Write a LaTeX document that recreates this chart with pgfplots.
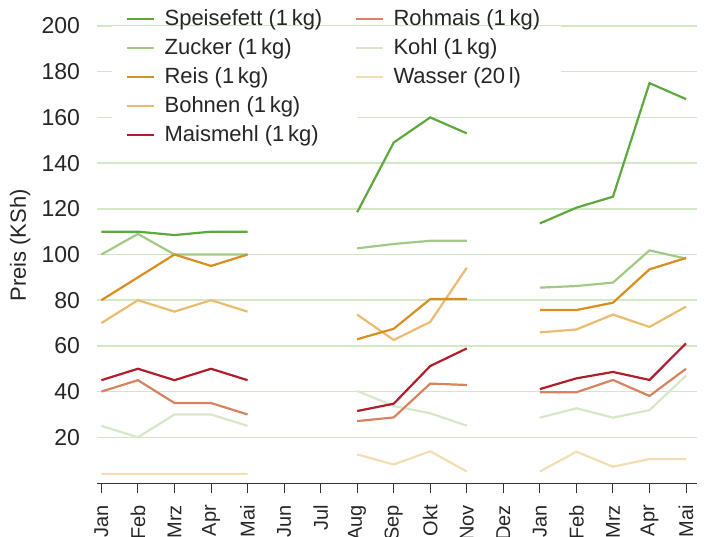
\documentclass[border=0pt]{standalone}
\usepackage{fontspec}
\setmainfont{Liberation Sans}
\usepackage{pgfplots}
\pgfplotsset{compat=1.18}
\usepackage{pgfplotstable}
\definecolor{cSpeise}{HTML}{5DA83F}
\definecolor{cZucker}{HTML}{A0CA86}
\definecolor{cReis}{HTML}{D88F1F}
\definecolor{cBohnen}{HTML}{EBBB6E}
\definecolor{cMais}{HTML}{B01E2C}
\definecolor{cRohmais}{HTML}{D68360}
\definecolor{cKohl}{HTML}{D6E8C8}
\definecolor{cWasser}{HTML}{F5DDB3}
\definecolor{gridc}{HTML}{D3E6C6}
\pgfplotstableread{
x Speisefett Zucker Reis Bohnen Maismehl Rohmais Kohl Wasser
0 110 100 80 70 45 40 25 4
1 110 109 90 80 50 45 20 4
2 108.5 100 100 75 45 35 30 4
3 110 100 95 80 50 35 30 4
4 110 100 100 75 45 30 25 4
5 nan nan nan nan nan nan nan nan
6 nan nan nan nan nan nan nan nan
7 118.5 102.7 62.9 73.7 31.5 27.1 40.3 12.5
8 149 104.6 67.5 62.6 34.7 28.7 33.7 8.1
9 160 106 80.5 70.5 51.2 43.5 30.5 13.9
10 153 106 80.5 94.2 58.9 42.9 25.1 5
11 nan nan nan nan nan nan nan nan
12 113.6 85.5 75.7 65.9 41.1 39.7 28.6 5
13 120.5 86.2 75.7 67.2 45.8 39.7 32.7 13.7
14 125.3 87.7 78.9 73.7 48.6 45.1 28.6 7.1
15 175 101.8 93.5 68.3 45.1 38.1 31.9 10.5
16 168 98.2 98.5 77.2 61.1 50 47 10.5
}\data
\begin{document}
\begin{tikzpicture}[font=\fontsize{11}{13}\selectfont]
\useasboundingbox (-48.5pt,-26.5pt) rectangle (305pt,241.5pt);
\clip (-48.5pt,-26.5pt) rectangle (305pt,241.5pt);
\begin{axis}[
  at={(0,0)}, anchor=south west,
  scale only axis, width=300pt, height=228.5pt,
  xmin=-0.12, xmax=16.3, ymin=0, ymax=200,
  axis x line=bottom, axis y line=left,
  x axis line style={-, draw=black!80, line width=0.5pt},
  y axis line style={draw=none},
  xtick={0,...,16},
  xticklabels={Jan,Feb,Mrz,Apr,Mai,Jun,Jul,Aug,Sep,Okt,Nov,Dez,Jan,Feb,Mrz,Apr,Mai},
  xtick style={draw=black!80, line width=0.5pt},
  tick align=outside, major tick length=5pt,
  ytick={20,40,...,200},
  ytick style={draw=none},
  ymajorgrids, grid style={color=gridc, line width=0.75pt},
  xticklabel style={rotate=90, anchor=east, text=black!85, font=\fontsize{10}{12}\selectfont},
  xticklabel shift={2.5pt},
  yticklabel style={text=black!85, font=\fontsize{11.5}{13}\selectfont},
  /pgf/number format/assume math mode=true,
  ylabel={Preis (KSh)},
  ylabel style={at={(axis description cs:-0.128,0.52)}, anchor=center, text=black!85},
  unbounded coords=jump,
  every axis plot/.append style={line width=1.1pt},
  legend columns=2,
  legend cell align=left,
  legend image code/.code={\draw[#1] (0pt,0pt) -- (13.5pt,0pt);},
  legend style={at={(rel axis cs:0.025,1.053)}, anchor=north west, draw=none, fill=none,
    inner xsep=7pt, inner ysep=1.25pt, nodes={inner ysep=2.5pt, inner xsep=2pt, text=black!85},
    /tikz/every odd column/.append style={column sep=2.5pt},
    /tikz/every even column/.append style={column sep=14.5pt}},
]
\fill[white] (rel axis cs:0.025,1.06) rectangle (rel axis cs:0.4326,0.7396);
\fill[white] (rel axis cs:0.4326,1.06) rectangle (rel axis cs:0.7737,0.86);
\addplot[cKohl, forget plot] table[x=x, y=Kohl] {\data};
\addplot[cWasser, forget plot] table[x=x, y=Wasser] {\data};
\addplot[cZucker, forget plot] table[x=x, y=Zucker] {\data};
\addplot[cBohnen, forget plot] table[x=x, y=Bohnen] {\data};
\addplot[cRohmais, forget plot] table[x=x, y=Rohmais] {\data};
\addplot[cReis, forget plot] table[x=x, y=Reis] {\data};
\addplot[cMais, forget plot] table[x=x, y=Maismehl] {\data};
\addplot[cSpeise, forget plot] table[x=x, y=Speisefett] {\data};
\addlegendimage{cSpeise, line width=1.1pt}\addlegendentry{Speisefett (1\,kg)}
\addlegendimage{cRohmais, line width=1.1pt}\addlegendentry{Rohmais (1\,kg)}
\addlegendimage{cZucker, line width=1.1pt}\addlegendentry{Zucker (1\,kg)}
\addlegendimage{cKohl, line width=1.1pt}\addlegendentry{Kohl (1\,kg)}
\addlegendimage{cReis, line width=1.1pt}\addlegendentry{Reis (1\,kg)}
\addlegendimage{cWasser, line width=1.1pt}\addlegendentry{Wasser (20\,l)}
\addlegendimage{cBohnen, line width=1.1pt}\addlegendentry{Bohnen (1\,kg)}
\addlegendimage{white}\addlegendentry{}
\addlegendimage{cMais, line width=1.1pt}\addlegendentry{Maismehl (1\,kg)}
\end{axis}
\end{tikzpicture}
\end{document}
